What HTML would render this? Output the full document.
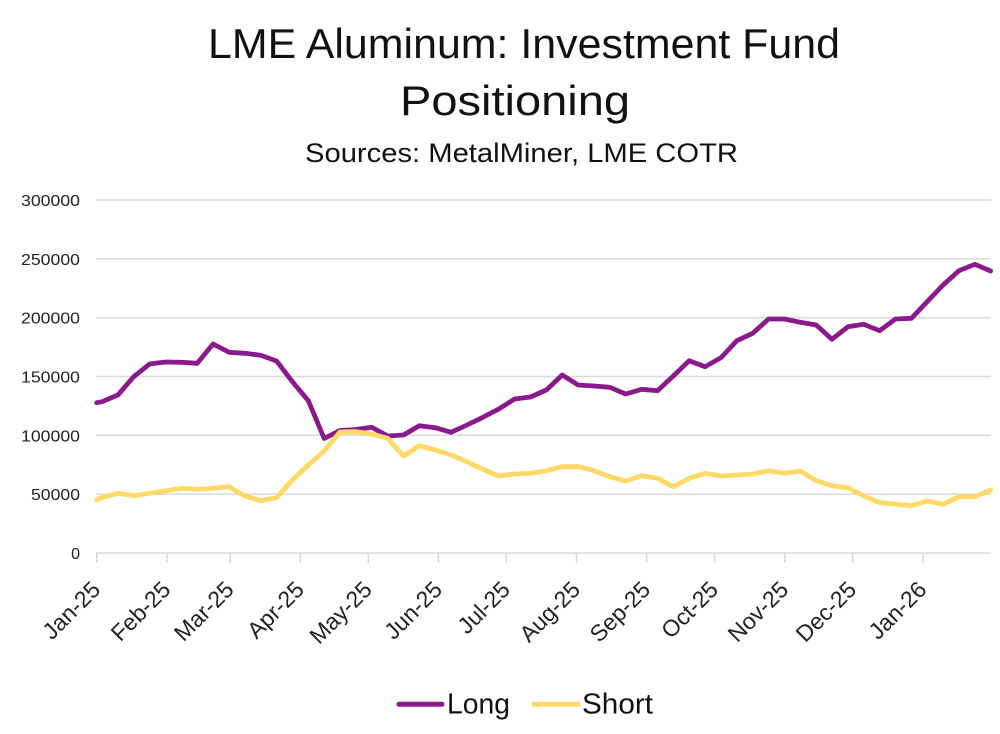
<!DOCTYPE html>
<html>
<head>
<meta charset="utf-8">
<style>
  html, body { margin: 0; padding: 0; background: #ffffff; }
  svg { display: block; }
  text { font-family: "Liberation Sans", "DejaVu Sans", sans-serif; }
</style>
</head>
<body>
<svg width="1000" height="734" viewBox="0 0 1000 734" xmlns="http://www.w3.org/2000/svg">
  <rect width="1000" height="734" fill="#ffffff"/>

  <!-- Title -->
  <text x="208" y="58" font-size="42" fill="#111" textLength="632" lengthAdjust="spacingAndGlyphs">LME Aluminum: Investment Fund</text>
  <text x="400" y="115" font-size="42" fill="#111" textLength="230" lengthAdjust="spacingAndGlyphs">Positioning</text>
  <text x="305" y="162" font-size="27" fill="#111" textLength="433" lengthAdjust="spacingAndGlyphs">Sources: MetalMiner, LME COTR</text>

  <!-- Gridlines -->
  <g stroke="#d9d9d9" stroke-width="1.5">
    <line x1="96" y1="200" x2="991" y2="200"/>
    <line x1="96" y1="258.8" x2="991" y2="258.8"/>
    <line x1="96" y1="317.7" x2="991" y2="317.7"/>
    <line x1="96" y1="376.5" x2="991" y2="376.5"/>
    <line x1="96" y1="435.3" x2="991" y2="435.3"/>
    <line x1="96" y1="494.2" x2="991" y2="494.2"/>
    <line x1="96" y1="553" x2="991" y2="553"/>
  </g>
  <!-- Ticks -->
  <g stroke="#d9d9d9" stroke-width="1.5">
    <line x1="96.7" y1="553" x2="96.7" y2="563"/>
    <line x1="166.9" y1="553" x2="166.9" y2="563"/>
    <line x1="230.2" y1="553" x2="230.2" y2="563"/>
    <line x1="300.4" y1="553" x2="300.4" y2="563"/>
    <line x1="368.3" y1="553" x2="368.3" y2="563"/>
    <line x1="438.5" y1="553" x2="438.5" y2="563"/>
    <line x1="506.4" y1="553" x2="506.4" y2="563"/>
    <line x1="576.5" y1="553" x2="576.5" y2="563"/>
    <line x1="646.7" y1="553" x2="646.7" y2="563"/>
    <line x1="714.6" y1="553" x2="714.6" y2="563"/>
    <line x1="784.8" y1="553" x2="784.8" y2="563"/>
    <line x1="852.7" y1="553" x2="852.7" y2="563"/>
    <line x1="922.9" y1="553" x2="922.9" y2="563"/>
  </g>

  <!-- Y labels -->
  <g font-size="16" fill="#222" text-anchor="end">
    <text x="80" y="206" textLength="59" lengthAdjust="spacingAndGlyphs">300000</text>
    <text x="80" y="264.8" textLength="59" lengthAdjust="spacingAndGlyphs">250000</text>
    <text x="80" y="323.7" textLength="59" lengthAdjust="spacingAndGlyphs">200000</text>
    <text x="80" y="382.5" textLength="59" lengthAdjust="spacingAndGlyphs">150000</text>
    <text x="80" y="441.3" textLength="59" lengthAdjust="spacingAndGlyphs">100000</text>
    <text x="80" y="500.2" textLength="49" lengthAdjust="spacingAndGlyphs">50000</text>
    <text x="80" y="559">0</text>
  </g>

  <!-- X labels -->
  <g font-size="23" fill="#222" text-anchor="end">
    <text transform="translate(101.7,591) rotate(-45)">Jan-25</text>
    <text transform="translate(171.9,591) rotate(-45)">Feb-25</text>
    <text transform="translate(235.2,591) rotate(-45)">Mar-25</text>
    <text transform="translate(305.4,591) rotate(-45)">Apr-25</text>
    <text transform="translate(373.3,591) rotate(-45)">May-25</text>
    <text transform="translate(443.5,591) rotate(-45)">Jun-25</text>
    <text transform="translate(511.4,591) rotate(-45)">Jul-25</text>
    <text transform="translate(581.5,591) rotate(-45)">Aug-25</text>
    <text transform="translate(651.7,591) rotate(-45)">Sep-25</text>
    <text transform="translate(719.6,591) rotate(-45)">Oct-25</text>
    <text transform="translate(789.8,591) rotate(-45)">Nov-25</text>
    <text transform="translate(857.7,591) rotate(-45)">Dec-25</text>
    <text transform="translate(927.9,591) rotate(-45)">Jan-26</text>
  </g>

  <!-- Long series -->
  <polyline fill="none" stroke="#8A1A8C" stroke-width="4.8" stroke-linejoin="round" stroke-linecap="round"
    points="96.7,402.7 102,401.7 117.9,395 133.7,376.7 149.6,364 165.5,362 181.4,362.3 197.2,363.3 213.1,344 229,352.3 244.8,353.3 260.7,355.3 276.6,361 292.4,381.7 308.3,400.7 324.2,438.5 340,430.5 355.9,429.5 371.8,427.3 387.7,436 403.5,435 419.4,425.7 435.3,427.7 451.1,432.3 467,425 482.9,417.3 498.8,409 514.6,399 530.5,397 546.4,390 562.2,375 578.1,385 594,386 609.8,387.3 625.7,394 641.6,389.3 657.5,390.7 673.3,376 689.2,360.7 705.1,366.7 721,357.7 736.8,340.7 752.7,333.3 768.6,319 784.5,319 800.3,322.3 816.2,325 832,339.3 847.9,326.7 863.8,324.3 879.6,330.7 895.5,319 911.4,318.3 927.2,301.7 943.1,285 959,270.7 974.9,264.3 990.7,271"/>

  <!-- Short series -->
  <polyline fill="none" stroke="#FFD966" stroke-width="4.8" stroke-linejoin="round" stroke-linecap="round"
    points="96.7,500 102,497.5 117.9,493.3 133.7,495.7 149.6,493.3 165.5,490.7 181.4,488.3 197.2,489.3 213.1,488.3 229,486.7 244.8,496 260.7,500.7 276.6,497.7 292.4,480 308.3,465 324.2,451 340,432 355.9,431.7 371.8,434 387.7,438.3 403.5,456 419.4,445.7 435.3,450 451.1,455 467,461.7 482.9,469.3 498.8,476 514.6,474 530.5,473.3 546.4,470.7 562.2,466.7 578.1,466.7 594,470.7 609.8,476.7 625.7,481 641.6,475.7 657.5,478.3 673.3,486.7 689.2,478.3 705.1,473.3 721,476 736.8,475 752.7,474 768.6,470.7 784.5,473.3 800.3,471 816.2,480.7 832,485.7 847.9,487.7 863.8,496 879.6,502.7 895.5,504 911.4,505.7 927.2,501 943.1,504.3 959,496.7 974.9,496.7 990.7,490"/>

  <!-- Legend -->
  <line x1="399" y1="704.3" x2="442" y2="704.3" stroke="#8A1A8C" stroke-width="5" stroke-linecap="round"/>
  <text x="447" y="713.5" font-size="29" fill="#111" textLength="63" lengthAdjust="spacingAndGlyphs">Long</text>
  <line x1="534" y1="704.3" x2="578" y2="704.3" stroke="#FFD966" stroke-width="5" stroke-linecap="round"/>
  <text x="582" y="713.5" font-size="29" fill="#111" textLength="71" lengthAdjust="spacingAndGlyphs">Short</text>
</svg>
</body>
</html>
